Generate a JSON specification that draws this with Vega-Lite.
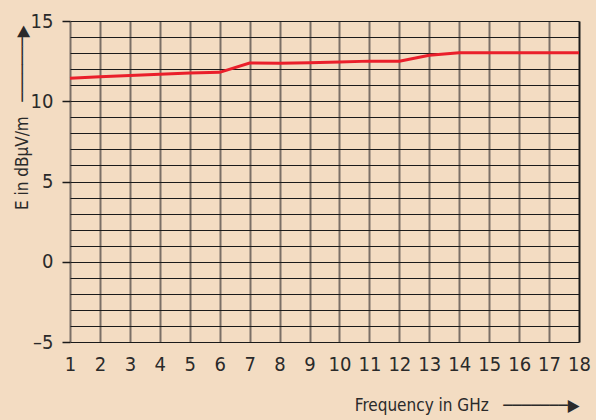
{
  "$schema": "https://vega.github.io/schema/vega-lite/v6.json",
  "width": 509,
  "height": 321,
  "autosize": {"type": "none"},
  "padding": {"left": 70, "top": 21, "right": 17, "bottom": 78},
  "background": "#f3dcc2",
  "config": {
    "view": {"stroke": null},
    "font": "Liberation Sans Narrow, DejaVu Sans Condensed, sans-serif"
  },
  "data": {
    "values": [
      {"f": 1, "e": 11.43},
      {"f": 2, "e": 11.53},
      {"f": 3, "e": 11.6},
      {"f": 4, "e": 11.68},
      {"f": 5, "e": 11.76},
      {"f": 6, "e": 11.8},
      {"f": 7, "e": 12.38},
      {"f": 8, "e": 12.36},
      {"f": 9, "e": 12.4},
      {"f": 10, "e": 12.44},
      {"f": 11, "e": 12.5},
      {"f": 12, "e": 12.5},
      {"f": 13, "e": 12.87},
      {"f": 14, "e": 13.02},
      {"f": 15, "e": 13.02},
      {"f": 16, "e": 13.02},
      {"f": 17, "e": 13.02},
      {"f": 18, "e": 13.02}
    ]
  },
  "mark": {"type": "line", "color": "#ea1f2b", "strokeWidth": 3},
  "encoding": {
    "x": {
      "field": "f",
      "type": "quantitative",
      "scale": {"domain": [1, 18], "nice": false, "zero": false},
      "axis": {
        "values": [1,2,3,4,5,6,7,8,9,10,11,12,13,14,15,16,17,18],
        "domain": false,
        "ticks": false,
        "grid": true,
        "gridColor": {"condition": {"test": "datum.value === 18", "value": "#1a1a1a"}, "value": "#7a6f66"},
        "gridWidth": 2,
        "labelFontSize": 20,
        "labelColor": "#2a2a2a",
        "labelPadding": 12,
        "labelFlush": false,
        "title": "Frequency in GHz \u00a0\u00a0───────▶",
        "titleFontSize": 17,
        "titleFontWeight": "normal",
        "titleColor": "#2a2a2a",
        "titleAlign": "right",
        "titleBaseline": "alphabetic",
        "titleX": 509,
        "titleY": 68
      }
    },
    "y": {
      "field": "e",
      "type": "quantitative",
      "scale": {"domain": [-5, 15], "nice": false, "zero": false},
      "axis": {
        "values": [-5,-4,-3,-2,-1,0,1,2,3,4,5,6,7,8,9,10,11,12,13,14,15],
        "domain": false,
        "grid": true,
        "gridColor": "#1a1a1a",
        "gridWidth": 1.2,
        "tickSize": 8,
        "tickColor": "#1a1a1a",
        "tickWidth": 1.5,
        "tickOpacity": {"condition": {"test": "datum.value % 5 === 0", "value": 1}, "value": 0},
        "labelExpr": "datum.value % 5 === 0 ? replace(datum.value + '', '-', '–') : ''",
        "labelFontSize": 20,
        "labelColor": "#2a2a2a",
        "labelPadding": 9,
        "labelFlush": false,
        "title": "E in dBμV/m \u00a0\u00a0───────▶",
        "titleFontSize": 17,
        "titleFontWeight": "normal",
        "titleColor": "#2a2a2a",
        "titleAngle": -90,
        "titleAlign": "right",
        "titleBaseline": "middle",
        "titleX": -48,
        "titleY": 4
      }
    }
  }
}
